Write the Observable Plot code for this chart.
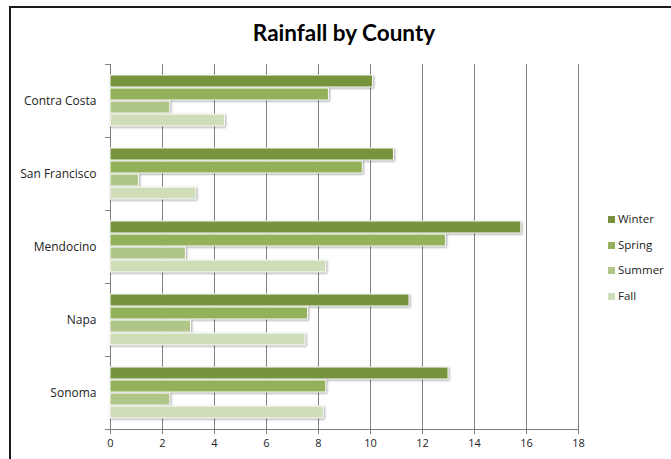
<!DOCTYPE html>
<html>
<head>
<meta charset="utf-8">
<script src="https://cdn.jsdelivr.net/npm/d3@7"></script>
<script src="https://cdn.jsdelivr.net/npm/@observablehq/plot@0.6"></script>
<style>
  body { margin: 0; background: #fff; }
  #wrap { position: relative; width: 671px; height: 459px; overflow: hidden; background: #fff; font-family: "Open Sans", sans-serif; }
  #border { position: absolute; left: 9px; top: 6px; width: 720px; height: 520px; border-left: 2px solid #1a1a1a; border-top: 2px solid #1a1a1a; box-shadow: -1px -1px 0 #999 inset; }
  #title { position: absolute; top: 19px; left: 0; width: 688px; text-align: center; font-family: Lato, sans-serif; font-weight: bold; font-size: 22.5px; color: #000; }
  #chart { position: absolute; left: 0; top: 0; }
  #legend { position: absolute; left: 608px; top: 211px; font-size: 11.5px; color: #222; }
  #legend div { height: 25.5px; display: flex; align-items: flex-start; line-height: 16px; }
  #legend span.sw { display: inline-block; width: 7px; height: 7px; margin-right: 3px; margin-top: 5px; }
  .bars rect { filter: drop-shadow(1.5px 1.5px 1.2px rgba(0,0,0,0.35)); }
</style>
</head>
<body>
<div id="wrap">
  <div id="border"></div>
  <div id="title">Rainfall by County</div>
  <div id="chart"></div>
  <div id="legend"></div>
</div>
<script>
const counties = ["Contra Costa", "San Francisco", "Mendocino", "Napa", "Sonoma"];
const seasons = ["Winter", "Spring", "Summer", "Fall"];
const winter = [10.1, 10.9, 15.8, 11.5, 13.0];
const spring = [8.4, 9.7, 12.9, 7.6, 8.3];
const summer = [2.3, 1.1, 2.9, 3.1, 2.3];
const fall = [4.4, 3.3, 8.3, 7.5, 8.2];
const xTicks = [0, 2, 4, 6, 8, 10, 12, 14, 16, 18];
const colors = ["#77933C", "#93B05A", "#AFC688", "#CFDDB9"];

const series = [winter, spring, summer, fall];
const data = [];
counties.forEach((c, i) => seasons.forEach((s, j) => data.push({county: c, season: s, value: series[j][i]})));

const W = 671, H = 459, mL = 110, mR = 93, mT = 64, mB = 30;
const innerW = W - mL - mR;

const chart = Plot.plot({
  width: W,
  height: H,
  marginLeft: mL,
  marginRight: mR,
  marginTop: mT,
  marginBottom: mB,
  style: {fontFamily: "'Open Sans', sans-serif", fontSize: "11px", color: "#222", background: "transparent"},
  x: {domain: [0, 18], axis: null},
  y: {domain: seasons, axis: null, paddingInner: 0.1, paddingOuter: 0.8},
  fy: {domain: counties, padding: 0, axis: null},
  color: {domain: seasons, range: colors},
  marks: [
    Plot.gridX(xTicks, {stroke: "#808080", strokeOpacity: 1, strokeWidth: 1}),
    Plot.frame({anchor: "left", stroke: "#808080"}),
    Plot.frame({anchor: "top", stroke: "#808080", insetLeft: -5, insetRight: innerW}),
    Plot.frame({anchor: "bottom", stroke: "#808080", insetLeft: -5, facetAnchor: "bottom"}),
    Plot.barX(data, {fy: "county", y: "season", x: "value", fill: "season", stroke: "#fff", strokeWidth: 1, className: "bars"}),
    Plot.axisX(xTicks, {anchor: "bottom", tickSize: 5, tickPadding: 5, stroke: "#808080", fontSize: 11, label: null, color: "#222"}),
    Plot.axisFy({anchor: "left", tickSize: 0, tickPadding: 14, label: null, fontSize: 12})
  ]
});
document.getElementById("chart").appendChild(chart);

const legend = document.getElementById("legend");
seasons.forEach((s, j) => {
  const row = document.createElement("div");
  const sw = document.createElement("span");
  sw.className = "sw";
  sw.style.background = colors[j];
  row.appendChild(sw);
  row.appendChild(document.createTextNode(s));
  legend.appendChild(row);
});
</script>
</body>
</html>
